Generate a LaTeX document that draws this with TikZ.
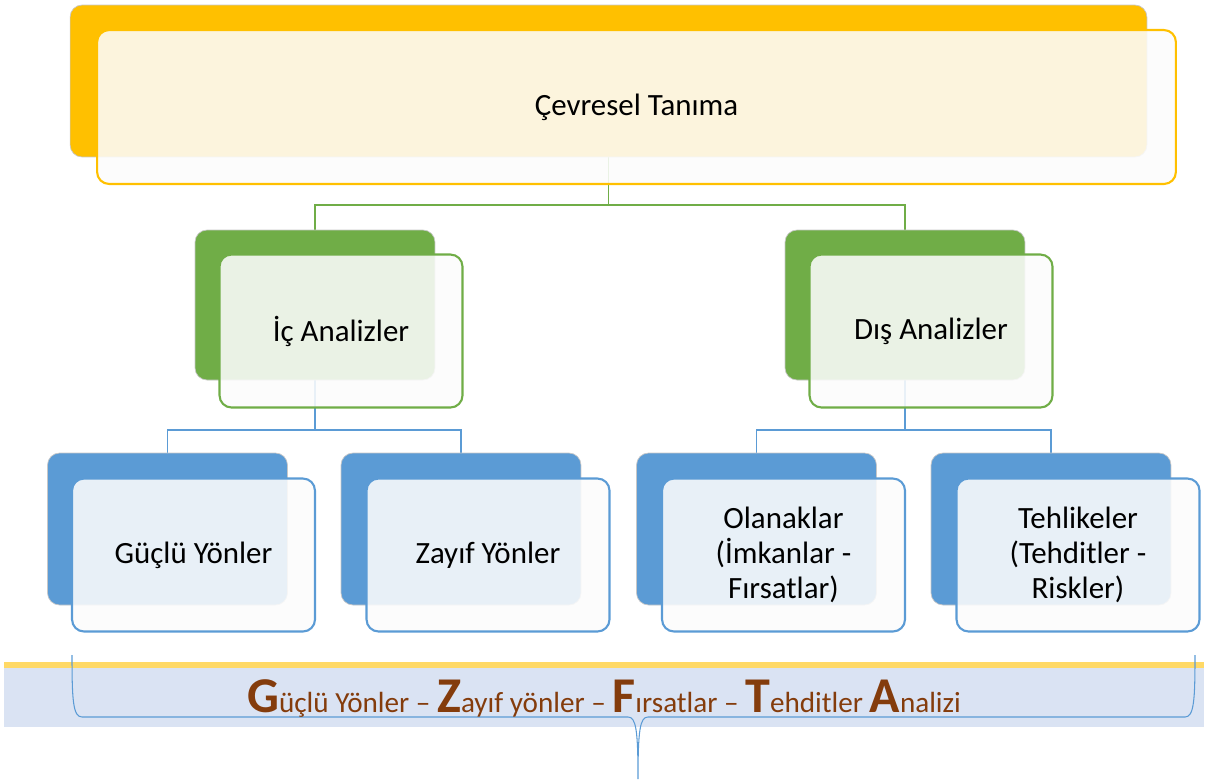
\documentclass[tikz,border=0pt]{standalone}
\usepackage{fontspec}
\setmainfont{Carlito}
\usetikzlibrary{backgrounds}

\definecolor{sari}{HTML}{FFC000}
\definecolor{yesil}{HTML}{70AD47}
\definecolor{mavi}{HTML}{5B9BD5}
\definecolor{bantsari}{HTML}{FFD966}
\definecolor{bantmavi}{HTML}{DAE3F3}
\definecolor{kahve}{HTML}{843C0C}
\definecolor{onbeyaz}{HTML}{FCFCFC}

\newcommand\buyuk[1]{{\fontsize{28.5}{29}\selectfont\bfseries #1}}

\tikzset{
  arka/.style={draw=black!22, line width=0.4pt, fill=#1, rounded corners=0.24cm,
    minimum width=4.8cm, minimum height=3cm},
  onkutu/.style={draw=#1, line width=1.2pt, fill=onbeyaz, fill opacity=0.88, text opacity=1,
    rounded corners=0.24cm, minimum width=4.86cm, minimum height=3.06cm, align=center,
    font=\fontsize{17.6}{20}\selectfont},
  bag/.style={draw=#1, line width=1.1pt}
}

\begin{document}
\begin{tikzpicture}[x=0.02cm, y=-0.02cm]
        \useasboundingbox (0,0) rectangle (1206,779);

        % Ust kutu
        \node (cevre) [arka=sari, minimum width=21.54cm, minimum height=3.04cm] at (608.5,81) {};
        \node (cevreon) [onkutu=sari, minimum width=21.58cm, minimum height=3.08cm] at ([shift={(28,26)}]cevre.center) {Çevresel Tanıma};

        % Analizler
        \node (ic) [arka=yesil] at (315,305) {};
        \node (icon) [onkutu=yesil] at ([shift={(26,26)}]ic.center) {İç Analizler};
        \node (dis) [arka=yesil] at (905,305) {};
        \node (dison) [onkutu=yesil] at ([shift={(26,26)}]dis.center) {Dış Analizler};

        % Alt kutular
        \node (guclu) [arka=mavi, minimum height=3.04cm] at (167.5,529) {};
        \node (gucluon) [onkutu=mavi] at ([shift={(26,26)}]guclu.center) {Güçlü Yönler};
        \node (zayif) [arka=mavi, minimum height=3.04cm] at (461,529) {};
        \node (zayifon) [onkutu=mavi] at ([shift={(27,26)}]zayif.center) {Zayıf Yönler};
        \node (olanak) [arka=mavi, minimum height=3.04cm] at (756.5,529) {};
        \node (olanakon) [onkutu=mavi] at ([shift={(27,26)}]olanak.center) {Olanaklar\\(İmkanlar -\\Fırsatlar)};
        \node (tehlike) [arka=mavi, minimum height=3.04cm] at (1051,529) {};
        \node (tehlikeon) [onkutu=mavi] at ([shift={(27,26)}]tehlike.center) {Tehlikeler\\(Tehditler -\\Riskler)};

        \begin{scope}[on background layer]
            % Baglantilar
            \draw[bag=yesil] (cevre.south) -- ++(0,48) coordinate (yk);
            \draw[bag=yesil] (ic.north) |- (yk) -| (dis.north);
            \draw[bag=mavi] (ic.south) -- ++(0,50) coordinate (sk);
            \draw[bag=mavi] (guclu.north) |- (sk) -| (zayif.north);
            \draw[bag=mavi] (dis.south) -- ++(0,50) coordinate (dk);
            \draw[bag=mavi] (olanak.north) |- (dk) -| (tehlike.north);

            % Bant
            \fill[bantsari] (4,662) rectangle (1204,668);
            \fill[bantmavi] (4,668) rectangle (1204,727);
        \end{scope}

        % Parantez
        \draw[mavi, line width=0.6pt] (72,655) .. controls (72,700) and (73,717) .. (82,717)
            -- (628,717) .. controls (636,717) and (638,730) .. (638,779)
            .. controls (638,730) and (640,717) .. (648,717)
            -- (1185,717) .. controls (1194,717) and (1195,700) .. (1195,655);

        \node (baslik) [anchor=base, text=kahve, font=\fontsize{16.6}{20}\selectfont] at (604,712)
            {\buyuk{G}üçlü Yönler – \buyuk{Z}ayıf yönler – \buyuk{F}ırsatlar – \buyuk{T}ehditler \buyuk{A}nalizi};
\end{tikzpicture}
\end{document}
